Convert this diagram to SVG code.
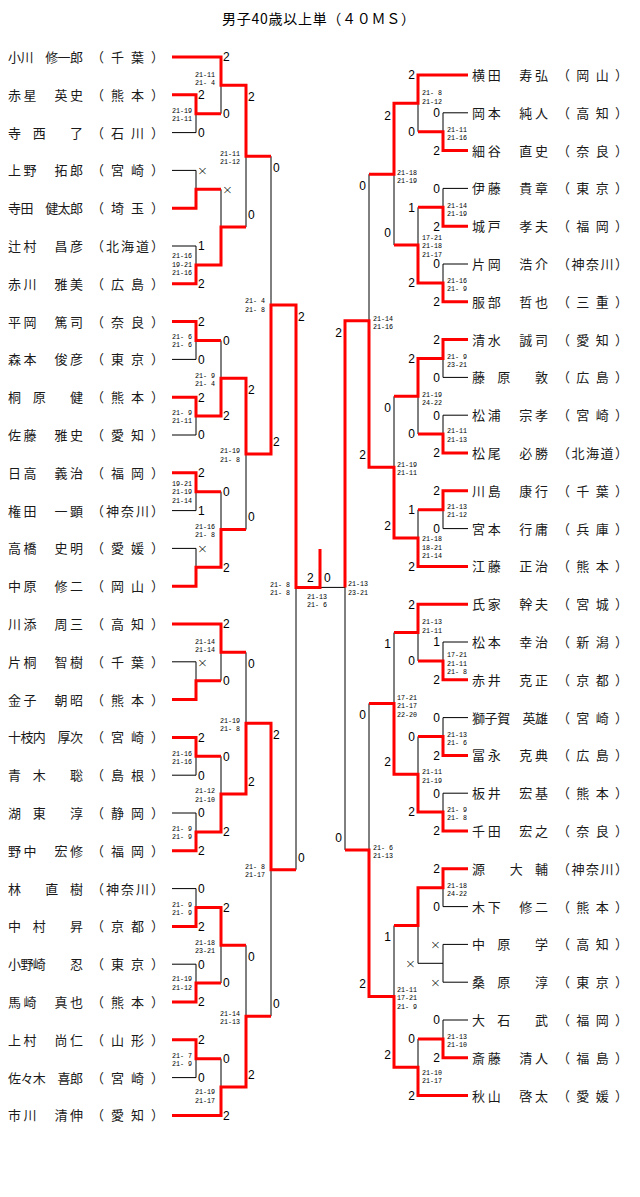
<svg xmlns="http://www.w3.org/2000/svg" width="640" height="1197" viewBox="0 0 640 1197">
<style>
.nm{font-family:"Noto Sans CJK JP","Noto Sans CJK SC",sans-serif;font-size:13px;fill:#1a1a1a}
.ttl{font-family:"Noto Sans CJK JP","Noto Sans CJK SC",sans-serif;font-size:14px;fill:#000}
.lb{font-family:"Liberation Sans",Arial,sans-serif;font-size:12px;fill:#000}
.x{font-family:"DejaVu Sans","Liberation Sans",sans-serif;font-size:13px;font-weight:200}
.e{text-anchor:end}
.pt{font-family:"Liberation Mono","DejaVu Sans Mono",monospace;font-size:8px;fill:#000}
.bk{fill:none;stroke:#000;stroke-width:1}
.w{fill:none;stroke:#ff0000;stroke-width:3;stroke-linejoin:miter}
</style>
<rect width="640" height="1197" fill="#fff"/>
<text class="ttl" x="222" y="24" textLength="193">男子40歳以上単（４０ＭＳ）</text>

<g id="connectors">
<path class="bk" d="M172 57H221M172 94.8H196M172 132.6H196M172 170.4H196M172 208.2H196M172 246H196M172 283.8H196M172 321.6H196M172 359.4H196M172 397.2H196M172 435H196M172 472.8H196M172 510.6H196M172 548.4H196M172 586.2H196M172 624H221M172 661.8H196M172 699.6H196M172 737.4H196M172 775.2H196M172 813H196M172 850.8H196M172 888.6H196M172 926.4H196M172 964.2H196M172 1002H196M172 1039.8H196M172 1077.6H196M172 1115.4H221
M196 94.8V132.6M196 113.7H221M196 170.4V208.2M196 189.3H221M196 246V283.8M196 264.9H221M196 321.6V359.4M196 340.5H221M196 397.2V435M196 416.1H221M196 472.8V510.6M196 491.7H221M196 548.4V586.2M196 567.3H221M196 661.8V699.6M196 680.7H221M196 737.4V775.2M196 756.3H221M196 813V850.8M196 831.9H221M196 888.6V926.4M196 907.5H221M196 964.2V1002M196 983.1H221M196 1039.8V1077.6M196 1058.7H221
M221 57V113.7M221 85.35H246M221 189.3V264.9M221 227.1H246M221 340.5V416.1M221 378.3H246M221 491.7V567.3M221 529.5H246M221 624V680.7M221 652.35H246M221 756.3V831.9M221 794.1H246M221 907.5V983.1M221 945.3H246M221 1058.7V1115.4M221 1087.05H246
M246 85.35V227.1M246 156.2H271M246 378.3V529.5M246 453.9H271M246 652.35V794.1M246 723.2H271M246 945.3V1087.05M246 1016.2H271
M271 156.2V453.9M271 305.05H296M271 723.2V1016.2M271 869.7H296
M296 305.05V869.7M296 587.4H345
M345 320.7V849.9M369 320.7H345M369 849.9H345
M369 174.2V467.2M369 703.4V996.4M394 174.2H369M394 467.2H369M394 703.4H369M394 996.4H369
M394 103.35V245.1M394 396.3V538.05M394 632.55V774.3M394 925.5V1067.25
M418 103.35H394M418 245.1H394M418 396.3H394M418 538.05H394M418 632.55H394M418 774.3H394M418 925.5H394M418 1067.25H394
M418 75V131.7M418 207.3V282.9M418 358.5V434.1M418 509.7V566.4M418 604.2V660.9M418 736.5V812.1M418 887.7V963.3M418 1038.9V1095.6
M443 131.7H418M443 207.3H418M443 282.9H418M443 358.5H418M443 434.1H418M443 509.7H418M443 660.9H418M443 736.5H418M443 812.1H418M443 887.7H418M443 963.3H418M443 1038.9H418
M443 112.8V150.6M443 188.4V226.2M443 264V301.8M443 339.6V377.4M443 415.2V453M443 490.8V528.6M443 642V679.8M443 717.6V755.4M443 793.2V831M443 868.8V906.6M443 944.4V982.2M443 1020V1057.8
M418 75H468M443 112.8H468M443 150.6H468M443 188.4H468M443 226.2H468M443 264H468M443 301.8H468M443 339.6H468M443 377.4H468M443 415.2H468M443 453H468M443 490.8H468M443 528.6H468M418 566.4H468M418 604.2H468M443 642H468M443 679.8H468M443 717.6H468M443 755.4H468M443 793.2H468M443 831H468M443 868.8H468M443 906.6H468M443 944.4H468M443 982.2H468M443 1020H468M443 1057.8H468M418 1095.6H468"/>
<polyline class="w" points="172,57 221,57 221,85.35 246,85.35 246,156.2 271,156.2"/>
<polyline class="w" points="172,94.8 196,94.8 196,113.7 221,113.7"/>
<polyline class="w" points="172,208.2 196,208.2 196,189.3 221,189.3"/>
<polyline class="w" points="172,283.8 196,283.8 196,264.9 221,264.9 221,227.1 246,227.1"/>
<polyline class="w" points="172,321.6 196,321.6 196,340.5 221,340.5"/>
<polyline class="w" points="172,397.2 196,397.2 196,416.1 221,416.1 221,378.3 246,378.3 246,453.9 271,453.9 271,305.05 296,305.05 296,587.4 320,587.4 320,549"/>
<polyline class="w" points="172,472.8 196,472.8 196,491.7 221,491.7"/>
<polyline class="w" points="172,586.2 196,586.2 196,567.3 221,567.3 221,529.5 246,529.5"/>
<polyline class="w" points="172,624 221,624 221,652.35 246,652.35"/>
<polyline class="w" points="172,699.6 196,699.6 196,680.7 221,680.7"/>
<polyline class="w" points="172,737.4 196,737.4 196,756.3 221,756.3"/>
<polyline class="w" points="172,850.8 196,850.8 196,831.9 221,831.9 221,794.1 246,794.1 246,723.2 271,723.2 271,869.7 296,869.7"/>
<polyline class="w" points="172,926.4 196,926.4 196,907.5 221,907.5 221,945.3 246,945.3"/>
<polyline class="w" points="172,1002 196,1002 196,983.1 221,983.1"/>
<polyline class="w" points="172,1039.8 196,1039.8 196,1058.7 221,1058.7"/>
<polyline class="w" points="172,1115.4 221,1115.4 221,1087.05 246,1087.05 246,1016.2 271,1016.2"/>
<polyline class="w" points="468,75 418,75 418,103.35 394,103.35 394,174.2 369,174.2"/>
<polyline class="w" points="468,150.6 443,150.6 443,131.7 418,131.7"/>
<polyline class="w" points="468,226.2 443,226.2 443,207.3 418,207.3"/>
<polyline class="w" points="468,301.8 443,301.8 443,282.9 418,282.9 418,245.1 394,245.1"/>
<polyline class="w" points="468,339.6 443,339.6 443,358.5 418,358.5 418,396.3 394,396.3"/>
<polyline class="w" points="468,453 443,453 443,434.1 418,434.1"/>
<polyline class="w" points="468,490.8 443,490.8 443,509.7 418,509.7"/>
<polyline class="w" points="468,566.4 418,566.4 418,538.05 394,538.05 394,467.2 369,467.2 369,320.7 345,320.7 345,587.4"/>
<polyline class="w" points="468,604.2 418,604.2 418,632.55 394,632.55"/>
<polyline class="w" points="468,679.8 443,679.8 443,660.9 418,660.9"/>
<polyline class="w" points="468,755.4 443,755.4 443,736.5 418,736.5"/>
<polyline class="w" points="468,831 443,831 443,812.1 418,812.1 418,774.3 394,774.3 394,703.4 369,703.4"/>
<polyline class="w" points="468,868.8 443,868.8 443,887.7 418,887.7 418,925.5 394,925.5"/>
<polyline class="w" points="468,1057.8 443,1057.8 443,1038.9 418,1038.9"/>
<polyline class="w" points="468,1095.6 418,1095.6 418,1067.25 394,1067.25 394,996.4 369,996.4 369,849.9 345,849.9"/>
</g>

<g id="results" class="lb">
<text x="198" y="99.1">2</text><text x="198" y="136.9">0</text><text class="x" x="197" y="175.2">×</text><text x="198" y="250.3">1</text><text x="198" y="288.1">2</text><text x="198" y="325.9">2</text><text x="198" y="363.7">0</text><text x="198" y="401.5">2</text><text x="198" y="439.3">0</text><text x="198" y="477.1">2</text><text x="198" y="514.9">1</text><text class="x" x="197" y="553.2">×</text><text class="x" x="197" y="666.6">×</text><text x="198" y="741.7">2</text><text x="198" y="779.5">0</text><text x="198" y="817.3">0</text><text x="198" y="855.1">2</text><text x="198" y="892.9">0</text><text x="198" y="930.7">2</text><text x="198" y="968.5">0</text><text x="198" y="1006.3">2</text><text x="198" y="1044.1">2</text><text x="198" y="1081.9">0</text>
<text x="223" y="61.3">2</text><text x="223" y="118">0</text><text class="x" x="222" y="194.1">×</text><text x="223" y="344.8">0</text><text x="223" y="420.4">2</text><text x="223" y="496">0</text><text x="223" y="571.6">2</text><text x="223" y="628.3">2</text><text x="223" y="685">0</text><text x="223" y="760.6">0</text><text x="223" y="836.2">2</text><text x="223" y="911.8">2</text><text x="223" y="987.4">0</text><text x="223" y="1063">0</text><text x="223" y="1119.7">2</text>
<text x="248" y="101.2">2</text><text x="248" y="218.9">0</text><text x="248" y="394.1">2</text><text x="248" y="521.3">0</text><text x="248" y="668.2">0</text><text x="248" y="785.9">2</text><text x="248" y="961.1">0</text><text x="248" y="1078.8">2</text>
<text x="273" y="172">0</text><text x="273" y="445.7">2</text><text x="273" y="739">2</text><text x="273" y="1008">0</text>
<text x="298" y="320.8">2</text><text x="298" y="861.5">0</text>
<text x="307" y="582.3">2</text><text x="324" y="582.3">0</text>
<g class="e">
<text x="440" y="117.1">0</text><text x="440" y="154.9">2</text><text x="440" y="192.7">0</text><text x="440" y="230.5">2</text><text x="440" y="268.3">0</text><text x="440" y="306.1">2</text><text x="440" y="343.9">2</text><text x="440" y="381.7">0</text><text x="440" y="419.5">0</text><text x="440" y="457.3">2</text><text x="440" y="495.1">2</text><text x="440" y="532.9">0</text><text x="440" y="646.3">1</text><text x="440" y="684.1">2</text><text x="440" y="721.9">0</text><text x="440" y="759.7">2</text><text x="440" y="797.5">0</text><text x="440" y="835.3">2</text><text x="440" y="873.1">2</text><text x="440" y="910.9">0</text><text class="x" x="441" y="949.2">×</text><text class="x" x="441" y="987">×</text><text x="440" y="1024.3">0</text><text x="440" y="1062.1">2</text>
<text x="415" y="79.3">2</text><text x="415" y="136">0</text><text x="415" y="211.6">1</text><text x="415" y="287.2">2</text><text x="415" y="362.8">2</text><text x="415" y="438.4">0</text><text x="415" y="514">1</text><text x="415" y="570.7">2</text><text x="415" y="608.5">2</text><text x="415" y="665.2">0</text><text x="415" y="740.8">0</text><text x="415" y="816.4">2</text><text class="x" x="416" y="968.1">×</text><text x="415" y="1043.2">0</text><text x="415" y="1099.9">2</text>
<text x="391" y="120">2</text><text x="391" y="236.9">0</text><text x="391" y="412.1">0</text><text x="391" y="529.8">2</text><text x="391" y="648.3">1</text><text x="391" y="766.1">2</text><text x="391" y="941.3">1</text><text x="391" y="1059">2</text>
<text x="366" y="190">0</text><text x="366" y="459">2</text><text x="366" y="719.2">0</text><text x="366" y="988.2">2</text>
<text x="342" y="336.5">2</text><text x="342" y="841.7">0</text>
</g>
</g>

<g id="games" class="pt">
<g class="e">
<text x="192" y="112.5" textLength="20" lengthAdjust="spacingAndGlyphs">21-19</text><text x="192" y="121" textLength="20" lengthAdjust="spacingAndGlyphs">21-11</text>
<text x="215" y="76.5" textLength="20" lengthAdjust="spacingAndGlyphs">21-11</text><text x="215" y="85" textLength="20" lengthAdjust="spacingAndGlyphs">21- 4</text>
<text x="192" y="258.3" textLength="20" lengthAdjust="spacingAndGlyphs">21-16</text><text x="192" y="266.8" textLength="20" lengthAdjust="spacingAndGlyphs">19-21</text><text x="192" y="275.3" textLength="20" lengthAdjust="spacingAndGlyphs">21-16</text>
<text x="240" y="155.5" textLength="20" lengthAdjust="spacingAndGlyphs">21-11</text><text x="240" y="164" textLength="20" lengthAdjust="spacingAndGlyphs">21-12</text>
<text x="192" y="338.5" textLength="20" lengthAdjust="spacingAndGlyphs">21- 6</text><text x="192" y="347" textLength="20" lengthAdjust="spacingAndGlyphs">21- 6</text>
<text x="192" y="414.5" textLength="20" lengthAdjust="spacingAndGlyphs">21- 9</text><text x="192" y="423" textLength="20" lengthAdjust="spacingAndGlyphs">21-11</text>
<text x="215" y="377.5" textLength="20" lengthAdjust="spacingAndGlyphs">21- 9</text><text x="215" y="386" textLength="20" lengthAdjust="spacingAndGlyphs">21- 4</text>
<text x="192" y="485.8" textLength="20" lengthAdjust="spacingAndGlyphs">19-21</text><text x="192" y="494.3" textLength="20" lengthAdjust="spacingAndGlyphs">21-19</text><text x="192" y="502.8" textLength="20" lengthAdjust="spacingAndGlyphs">21-14</text>
<text x="215" y="528.5" textLength="20" lengthAdjust="spacingAndGlyphs">21-16</text><text x="215" y="537" textLength="20" lengthAdjust="spacingAndGlyphs">21- 8</text>
<text x="240" y="453" textLength="20" lengthAdjust="spacingAndGlyphs">21-19</text><text x="240" y="461.5" textLength="20" lengthAdjust="spacingAndGlyphs">21- 8</text>
<text x="265" y="303" textLength="20" lengthAdjust="spacingAndGlyphs">21- 4</text><text x="265" y="311.5" textLength="20" lengthAdjust="spacingAndGlyphs">21- 8</text>
<text x="215" y="643.5" textLength="20" lengthAdjust="spacingAndGlyphs">21-14</text><text x="215" y="652" textLength="20" lengthAdjust="spacingAndGlyphs">21-14</text>
<text x="192" y="755.5" textLength="20" lengthAdjust="spacingAndGlyphs">21-16</text><text x="192" y="764" textLength="20" lengthAdjust="spacingAndGlyphs">21-16</text>
<text x="192" y="830.5" textLength="20" lengthAdjust="spacingAndGlyphs">21- 9</text><text x="192" y="839" textLength="20" lengthAdjust="spacingAndGlyphs">21- 9</text>
<text x="215" y="793" textLength="20" lengthAdjust="spacingAndGlyphs">21-12</text><text x="215" y="801.5" textLength="20" lengthAdjust="spacingAndGlyphs">21-10</text>
<text x="240" y="722.5" textLength="20" lengthAdjust="spacingAndGlyphs">21-19</text><text x="240" y="731" textLength="20" lengthAdjust="spacingAndGlyphs">21- 8</text>
<text x="192" y="906.5" textLength="20" lengthAdjust="spacingAndGlyphs">21- 9</text><text x="192" y="915" textLength="20" lengthAdjust="spacingAndGlyphs">21- 9</text>
<text x="192" y="981" textLength="20" lengthAdjust="spacingAndGlyphs">21-19</text><text x="192" y="989.5" textLength="20" lengthAdjust="spacingAndGlyphs">21-12</text>
<text x="215" y="944.5" textLength="20" lengthAdjust="spacingAndGlyphs">21-18</text><text x="215" y="953" textLength="20" lengthAdjust="spacingAndGlyphs">23-21</text>
<text x="192" y="1057.5" textLength="20" lengthAdjust="spacingAndGlyphs">21- 7</text><text x="192" y="1066" textLength="20" lengthAdjust="spacingAndGlyphs">21- 9</text>
<text x="215" y="1094" textLength="20" lengthAdjust="spacingAndGlyphs">21-19</text><text x="215" y="1102.5" textLength="20" lengthAdjust="spacingAndGlyphs">21-17</text>
<text x="240" y="1015.5" textLength="20" lengthAdjust="spacingAndGlyphs">21-14</text><text x="240" y="1024" textLength="20" lengthAdjust="spacingAndGlyphs">21-13</text>
<text x="265" y="868.5" textLength="20" lengthAdjust="spacingAndGlyphs">21- 8</text><text x="265" y="877" textLength="20" lengthAdjust="spacingAndGlyphs">21-17</text>
<text x="290" y="586.5" textLength="20" lengthAdjust="spacingAndGlyphs">21- 8</text><text x="290" y="595" textLength="20" lengthAdjust="spacingAndGlyphs">21- 8</text>
</g>
<text x="307" y="598.5" textLength="20" lengthAdjust="spacingAndGlyphs">21-13</text><text x="307" y="607" textLength="20" lengthAdjust="spacingAndGlyphs">21- 6</text>
<text x="447" y="131.5" textLength="20" lengthAdjust="spacingAndGlyphs">21-11</text><text x="447" y="140" textLength="20" lengthAdjust="spacingAndGlyphs">21-16</text>
<text x="422" y="95" textLength="20" lengthAdjust="spacingAndGlyphs">21- 8</text><text x="422" y="103.5" textLength="20" lengthAdjust="spacingAndGlyphs">21-12</text>
<text x="447" y="207.5" textLength="20" lengthAdjust="spacingAndGlyphs">21-14</text><text x="447" y="216" textLength="20" lengthAdjust="spacingAndGlyphs">21-19</text>
<text x="447" y="282.5" textLength="20" lengthAdjust="spacingAndGlyphs">21-16</text><text x="447" y="291" textLength="20" lengthAdjust="spacingAndGlyphs">21- 9</text>
<text x="422" y="239.8" textLength="20" lengthAdjust="spacingAndGlyphs">17-21</text><text x="422" y="248.3" textLength="20" lengthAdjust="spacingAndGlyphs">21-18</text><text x="422" y="256.8" textLength="20" lengthAdjust="spacingAndGlyphs">21-17</text>
<text x="397" y="174.5" textLength="20" lengthAdjust="spacingAndGlyphs">21-18</text><text x="397" y="183" textLength="20" lengthAdjust="spacingAndGlyphs">21-19</text>
<text x="447" y="358.5" textLength="20" lengthAdjust="spacingAndGlyphs">21- 9</text><text x="447" y="367" textLength="20" lengthAdjust="spacingAndGlyphs">23-21</text>
<text x="447" y="433" textLength="20" lengthAdjust="spacingAndGlyphs">21-11</text><text x="447" y="441.5" textLength="20" lengthAdjust="spacingAndGlyphs">21-13</text>
<text x="422" y="396.5" textLength="20" lengthAdjust="spacingAndGlyphs">21-19</text><text x="422" y="405" textLength="20" lengthAdjust="spacingAndGlyphs">24-22</text>
<text x="447" y="508.5" textLength="20" lengthAdjust="spacingAndGlyphs">21-13</text><text x="447" y="517" textLength="20" lengthAdjust="spacingAndGlyphs">21-12</text>
<text x="422" y="541.3" textLength="20" lengthAdjust="spacingAndGlyphs">21-18</text><text x="422" y="549.8" textLength="20" lengthAdjust="spacingAndGlyphs">18-21</text><text x="422" y="558.3" textLength="20" lengthAdjust="spacingAndGlyphs">21-14</text>
<text x="397" y="466.5" textLength="20" lengthAdjust="spacingAndGlyphs">21-19</text><text x="397" y="475" textLength="20" lengthAdjust="spacingAndGlyphs">21-11</text>
<text x="373" y="320.5" textLength="20" lengthAdjust="spacingAndGlyphs">21-14</text><text x="373" y="329" textLength="20" lengthAdjust="spacingAndGlyphs">21-16</text>
<text x="447" y="657.3" textLength="20" lengthAdjust="spacingAndGlyphs">17-21</text><text x="447" y="665.8" textLength="20" lengthAdjust="spacingAndGlyphs">21-11</text><text x="447" y="674.3" textLength="20" lengthAdjust="spacingAndGlyphs">21- 8</text>
<text x="422" y="624" textLength="20" lengthAdjust="spacingAndGlyphs">21-13</text><text x="422" y="632.5" textLength="20" lengthAdjust="spacingAndGlyphs">21-11</text>
<text x="447" y="736.5" textLength="20" lengthAdjust="spacingAndGlyphs">21-13</text><text x="447" y="745" textLength="20" lengthAdjust="spacingAndGlyphs">21- 6</text>
<text x="447" y="811.5" textLength="20" lengthAdjust="spacingAndGlyphs">21- 9</text><text x="447" y="820" textLength="20" lengthAdjust="spacingAndGlyphs">21- 8</text>
<text x="422" y="774" textLength="20" lengthAdjust="spacingAndGlyphs">21-11</text><text x="422" y="782.5" textLength="20" lengthAdjust="spacingAndGlyphs">21-19</text>
<text x="397" y="699.8" textLength="20" lengthAdjust="spacingAndGlyphs">17-21</text><text x="397" y="708.3" textLength="20" lengthAdjust="spacingAndGlyphs">21-17</text><text x="397" y="716.8" textLength="20" lengthAdjust="spacingAndGlyphs">22-20</text>
<text x="447" y="887.5" textLength="20" lengthAdjust="spacingAndGlyphs">21-18</text><text x="447" y="896" textLength="20" lengthAdjust="spacingAndGlyphs">24-22</text>
<text x="447" y="1038.5" textLength="20" lengthAdjust="spacingAndGlyphs">21-13</text><text x="447" y="1047" textLength="20" lengthAdjust="spacingAndGlyphs">21-10</text>
<text x="422" y="1074.5" textLength="20" lengthAdjust="spacingAndGlyphs">21-10</text><text x="422" y="1083" textLength="20" lengthAdjust="spacingAndGlyphs">21-17</text>
<text x="397" y="991.8" textLength="20" lengthAdjust="spacingAndGlyphs">21-11</text><text x="397" y="1000.3" textLength="20" lengthAdjust="spacingAndGlyphs">17-21</text><text x="397" y="1008.8" textLength="20" lengthAdjust="spacingAndGlyphs">21- 9</text>
<text x="373" y="849.5" textLength="20" lengthAdjust="spacingAndGlyphs">21- 6</text><text x="373" y="858" textLength="20" lengthAdjust="spacingAndGlyphs">21-13</text>
<text x="348" y="586" textLength="20" lengthAdjust="spacingAndGlyphs">21-13</text><text x="348" y="594.5" textLength="20" lengthAdjust="spacingAndGlyphs">23-21</text>
</g>

<g id="players-left" class="nm">
<g id="L00"><text x="8" y="62" textLength="75">小川　修一郎</text><text x="91" y="62" textLength="73">（千葉）</text></g>
<g id="L01"><text x="8" y="99.8" textLength="75">赤星　英史</text><text x="91" y="99.8" textLength="73">（熊本）</text></g>
<g id="L02"><text x="8" y="137.6" textLength="75">寺　西　　了</text><text x="91" y="137.6" textLength="73">（石川）</text></g>
<g id="L03"><text x="8" y="175.4" textLength="75">上野　拓郎</text><text x="91" y="175.4" textLength="73">（宮崎）</text></g>
<g id="L04"><text x="8" y="213.2" textLength="75">寺田　健太郎</text><text x="91" y="213.2" textLength="73">（埼玉）</text></g>
<g id="L05"><text x="8" y="251" textLength="75">辻村　昌彦</text><text x="91" y="251" textLength="73">（北海道）</text></g>
<g id="L06"><text x="8" y="288.8" textLength="75">赤川　雅美</text><text x="91" y="288.8" textLength="73">（広島）</text></g>
<g id="L07"><text x="8" y="326.6" textLength="75">平岡　篤司</text><text x="91" y="326.6" textLength="73">（奈良）</text></g>
<g id="L08"><text x="8" y="364.4" textLength="75">森本　俊彦</text><text x="91" y="364.4" textLength="73">（東京）</text></g>
<g id="L09"><text x="8" y="402.2" textLength="75">桐　原　　健</text><text x="91" y="402.2" textLength="73">（熊本）</text></g>
<g id="L10"><text x="8" y="440" textLength="75">佐藤　雅史</text><text x="91" y="440" textLength="73">（愛知）</text></g>
<g id="L11"><text x="8" y="477.8" textLength="75">日高　義治</text><text x="91" y="477.8" textLength="73">（福岡）</text></g>
<g id="L12"><text x="8" y="515.6" textLength="75">権田　一顕</text><text x="91" y="515.6" textLength="73">（神奈川）</text></g>
<g id="L13"><text x="8" y="553.4" textLength="75">高橋　史明</text><text x="91" y="553.4" textLength="73">（愛媛）</text></g>
<g id="L14"><text x="8" y="591.2" textLength="75">中原　修二</text><text x="91" y="591.2" textLength="73">（岡山）</text></g>
<g id="L15"><text x="8" y="629" textLength="75">川添　周三</text><text x="91" y="629" textLength="73">（高知）</text></g>
<g id="L16"><text x="8" y="666.8" textLength="75">片桐　智樹</text><text x="91" y="666.8" textLength="73">（千葉）</text></g>
<g id="L17"><text x="8" y="704.6" textLength="75">金子　朝昭</text><text x="91" y="704.6" textLength="73">（熊本）</text></g>
<g id="L18"><text x="8" y="742.4" textLength="75">十枝内　厚次</text><text x="91" y="742.4" textLength="73">（宮崎）</text></g>
<g id="L19"><text x="8" y="780.2" textLength="75">青　木　　聡</text><text x="91" y="780.2" textLength="73">（島根）</text></g>
<g id="L20"><text x="8" y="818" textLength="75">湖　東　　淳</text><text x="91" y="818" textLength="73">（静岡）</text></g>
<g id="L21"><text x="8" y="855.8" textLength="75">野中　宏修</text><text x="91" y="855.8" textLength="73">（福岡）</text></g>
<g id="L22"><text x="8" y="893.6" textLength="75">林　　直　樹</text><text x="91" y="893.6" textLength="73">（神奈川）</text></g>
<g id="L23"><text x="8" y="931.4" textLength="75">中　村　　昇</text><text x="91" y="931.4" textLength="73">（京都）</text></g>
<g id="L24"><text x="8" y="969.2" textLength="75">小野崎　　忍</text><text x="91" y="969.2" textLength="73">（東京）</text></g>
<g id="L25"><text x="8" y="1007" textLength="75">馬崎　真也</text><text x="91" y="1007" textLength="73">（熊本）</text></g>
<g id="L26"><text x="8" y="1044.8" textLength="75">上村　尚仁</text><text x="91" y="1044.8" textLength="73">（山形）</text></g>
<g id="L27"><text x="8" y="1082.6" textLength="75">佐々木　喜郎</text><text x="91" y="1082.6" textLength="73">（宮崎）</text></g>
<g id="L28"><text x="8" y="1120.4" textLength="75">市川　清伸</text><text x="91" y="1120.4" textLength="73">（愛知）</text></g>
</g>

<g id="players-right" class="nm">
<g id="R00"><text x="472" y="80" textLength="76">横田　寿弘</text><text x="557" y="80" textLength="71">（岡山）</text></g>
<g id="R01"><text x="472" y="117.8" textLength="76">岡本　純人</text><text x="557" y="117.8" textLength="71">（高知）</text></g>
<g id="R02"><text x="472" y="155.6" textLength="76">細谷　直史</text><text x="557" y="155.6" textLength="71">（奈良）</text></g>
<g id="R03"><text x="472" y="193.4" textLength="76">伊藤　貴章</text><text x="557" y="193.4" textLength="71">（東京）</text></g>
<g id="R04"><text x="472" y="231.2" textLength="76">城戸　孝夫</text><text x="557" y="231.2" textLength="71">（福岡）</text></g>
<g id="R05"><text x="472" y="269" textLength="76">片岡　浩介</text><text x="557" y="269" textLength="71">（神奈川）</text></g>
<g id="R06"><text x="472" y="306.8" textLength="76">服部　哲也</text><text x="557" y="306.8" textLength="71">（三重）</text></g>
<g id="R07"><text x="472" y="344.6" textLength="76">清水　誠司</text><text x="557" y="344.6" textLength="71">（愛知）</text></g>
<g id="R08"><text x="472" y="382.4" textLength="76">藤　原　　敦</text><text x="557" y="382.4" textLength="71">（広島）</text></g>
<g id="R09"><text x="472" y="420.2" textLength="76">松浦　宗孝</text><text x="557" y="420.2" textLength="71">（宮崎）</text></g>
<g id="R10"><text x="472" y="458" textLength="76">松尾　必勝</text><text x="557" y="458" textLength="71">（北海道）</text></g>
<g id="R11"><text x="472" y="495.8" textLength="76">川島　康行</text><text x="557" y="495.8" textLength="71">（千葉）</text></g>
<g id="R12"><text x="472" y="533.6" textLength="76">宮本　行庸</text><text x="557" y="533.6" textLength="71">（兵庫）</text></g>
<g id="R13"><text x="472" y="571.4" textLength="76">江藤　正治</text><text x="557" y="571.4" textLength="71">（熊本）</text></g>
<g id="R14"><text x="472" y="609.2" textLength="76">氏家　幹夫</text><text x="557" y="609.2" textLength="71">（宮城）</text></g>
<g id="R15"><text x="472" y="647" textLength="76">松本　幸治</text><text x="557" y="647" textLength="71">（新潟）</text></g>
<g id="R16"><text x="472" y="684.8" textLength="76">赤井　克正</text><text x="557" y="684.8" textLength="71">（京都）</text></g>
<g id="R17"><text x="472" y="722.6" textLength="76">獅子賀　英雄</text><text x="557" y="722.6" textLength="71">（宮崎）</text></g>
<g id="R18"><text x="472" y="760.4" textLength="76">冨永　克典</text><text x="557" y="760.4" textLength="71">（広島）</text></g>
<g id="R19"><text x="472" y="798.2" textLength="76">板井　宏基</text><text x="557" y="798.2" textLength="71">（熊本）</text></g>
<g id="R20"><text x="472" y="836" textLength="76">千田　宏之</text><text x="557" y="836" textLength="71">（奈良）</text></g>
<g id="R21"><text x="472" y="873.8" textLength="76">源　　大　輔</text><text x="557" y="873.8" textLength="71">（神奈川）</text></g>
<g id="R22"><text x="472" y="911.6" textLength="76">木下　修二</text><text x="557" y="911.6" textLength="71">（熊本）</text></g>
<g id="R23"><text x="472" y="949.4" textLength="76">中　原　　学</text><text x="557" y="949.4" textLength="71">（高知）</text></g>
<g id="R24"><text x="472" y="987.2" textLength="76">桑　原　　淳</text><text x="557" y="987.2" textLength="71">（東京）</text></g>
<g id="R25"><text x="472" y="1025" textLength="76">大　石　　武</text><text x="557" y="1025" textLength="71">（福岡）</text></g>
<g id="R26"><text x="472" y="1062.8" textLength="76">斎藤　清人</text><text x="557" y="1062.8" textLength="71">（福島）</text></g>
<g id="R27"><text x="472" y="1100.6" textLength="76">秋山　啓太</text><text x="557" y="1100.6" textLength="71">（愛媛）</text></g>
</g>
</svg>
